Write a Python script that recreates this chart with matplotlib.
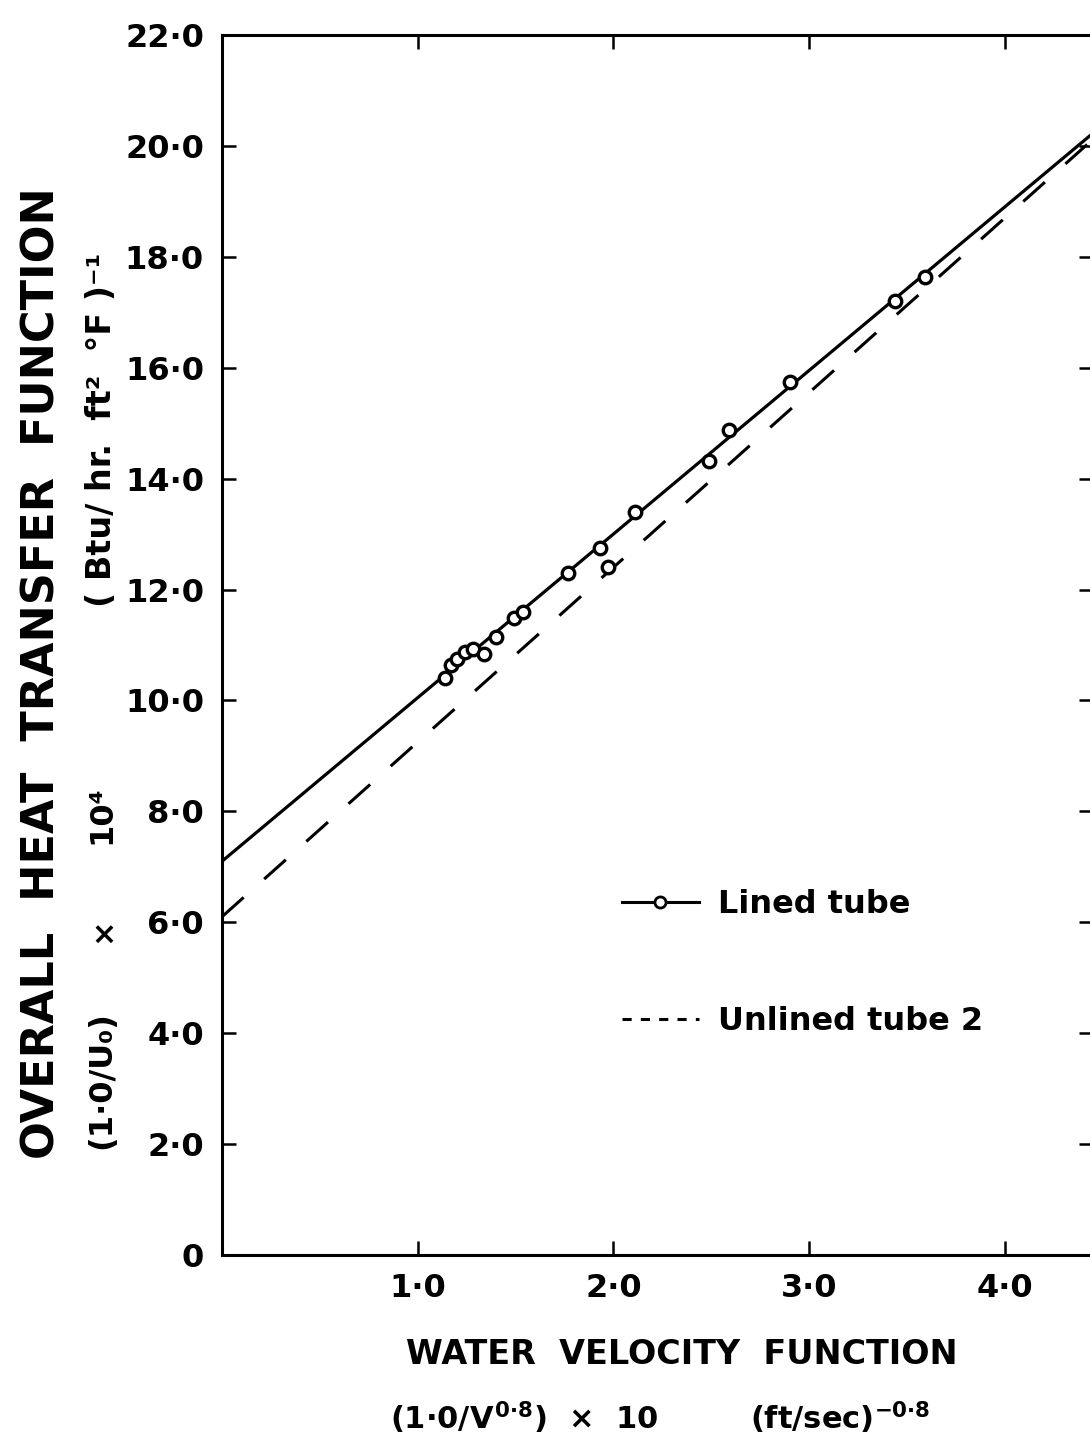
import matplotlib.pyplot as plt
from matplotlib.lines import Line2D

plt.rcParams['font.family'] = ['DejaVu Sans']
plt.rcParams['font.weight'] = 'bold'
plt.rcParams['mathtext.fontset'] = 'custom'
plt.rcParams['mathtext.rm'] = 'DejaVu Sans:bold'
plt.rcParams['mathtext.it'] = 'DejaVu Sans:bold'
plt.rcParams['mathtext.bf'] = 'DejaVu Sans:bold'
plt.rcParams['mathtext.sf'] = 'DejaVu Sans:bold'

# lined tube runs: water velocity function vs overall heat transfer function
x_lined = [1.14, 1.17, 1.20, 1.24, 1.28, 1.34, 1.40, 1.49, 1.54,
           1.77, 1.93, 1.97, 2.11, 2.49, 2.59, 2.90, 3.44, 3.59]
y_lined = [10.41, 10.64, 10.75, 10.88, 10.92, 10.84, 11.14, 11.48, 11.60,
           12.30, 12.75, 12.41, 13.40, 14.32, 14.87, 15.75, 17.20, 17.64]

# straight-line fits (end points)
x_fit = [0.0, 4.45]
y_fit_lined = [7.10, 20.23]
y_fit_unlined = [6.10, 20.12]

xticks = [1.0, 2.0, 3.0, 4.0]
xticklabels = ['1·0', '2·0', '3·0', '4·0']
yticks = [0, 2, 4, 6, 8, 10, 12, 14, 16, 18, 20, 22]
yticklabels = ['0', '2·0', '4·0', '6·0', '8·0', '10·0', '12·0', '14·0',
               '16·0', '18·0', '20·0', '22·0']

W, H = 1090, 1442
fig = plt.figure(figsize=(W / 100, H / 100), dpi=100)
ax = fig.add_axes([222 / W, 1 - 1255 / H, 871 / W, 1220 / H])

ax.plot(x_fit, y_fit_lined, color='black', lw=2.3, zorder=2)
ax.plot(x_fit, y_fit_unlined, color='black', lw=2.2, dashes=(9.5, 9), zorder=2)
ax.plot(x_lined, y_lined, ls='none', marker='o', ms=9, mew=2.4,
        mfc='white', mec='black', zorder=3)

ax.set_xlim(0, 4.45)
ax.set_ylim(0, 22)
ax.set_xticks(xticks)
ax.set_xticklabels(xticklabels)
ax.set_yticks(yticks)
ax.set_yticklabels(yticklabels)
ax.tick_params(direction='in', length=10, width=1.8, top=True, right=True,
               labelsize=23, pad=13)
for s in ax.spines.values():
    s.set_linewidth(2.2)

# legend
handles = [
    Line2D([], [], color='black', lw=2.2, marker='o', ms=8, mew=2,
           mfc='white', mec='black'),
    Line2D([], [], color='black', lw=2.2, dashes=(3, 3)),
]
ax.legend(handles, ['Lined tube', 'Unlined tube 2'], loc='center left',
          bbox_to_anchor=(622 / W, 1 - 963 / H), bbox_transform=fig.transFigure,
          frameon=False, fontsize=23, handlelength=2.4, handletextpad=0.6,
          labelspacing=2.7, borderpad=0, borderaxespad=0)

# axis titles
fig.text(682 / W, 1 - 1355 / H, 'WATER  VELOCITY  FUNCTION', fontsize=24,
         ha='center', va='center')
fig.text(390 / W, 1 - 1418 / H, r'$(1·0/V^{0·8})$  ×  10', fontsize=22,
         ha='left', va='center')
fig.text(750 / W, 1 - 1418 / H, r'$(ft/ sec)^{-0·8}$', fontsize=22,
         ha='left', va='center')

fig.text(42 / W, 1 - 673 / H, 'OVERALL  HEAT  TRANSFER  FUNCTION',
         fontsize=32, rotation=90, ha='center', va='center')
fig.text(102 / W, 1 - 1080 / H, '(1·0/U₀)', fontsize=23, rotation=90,
         ha='center', va='center')
fig.text(102 / W, 1 - 930 / H, '×', fontsize=22, rotation=90,
         ha='center', va='center')
fig.text(102 / W, 1 - 815 / H, '10⁴', fontsize=23, rotation=90,
         ha='center', va='center')
fig.text(102 / W, 1 - 430 / H, '( Btu/ hr.  ft²  °F )⁻¹', fontsize=24,
         rotation=90, ha='center', va='center')

fig.savefig('out.png', dpi=100)
